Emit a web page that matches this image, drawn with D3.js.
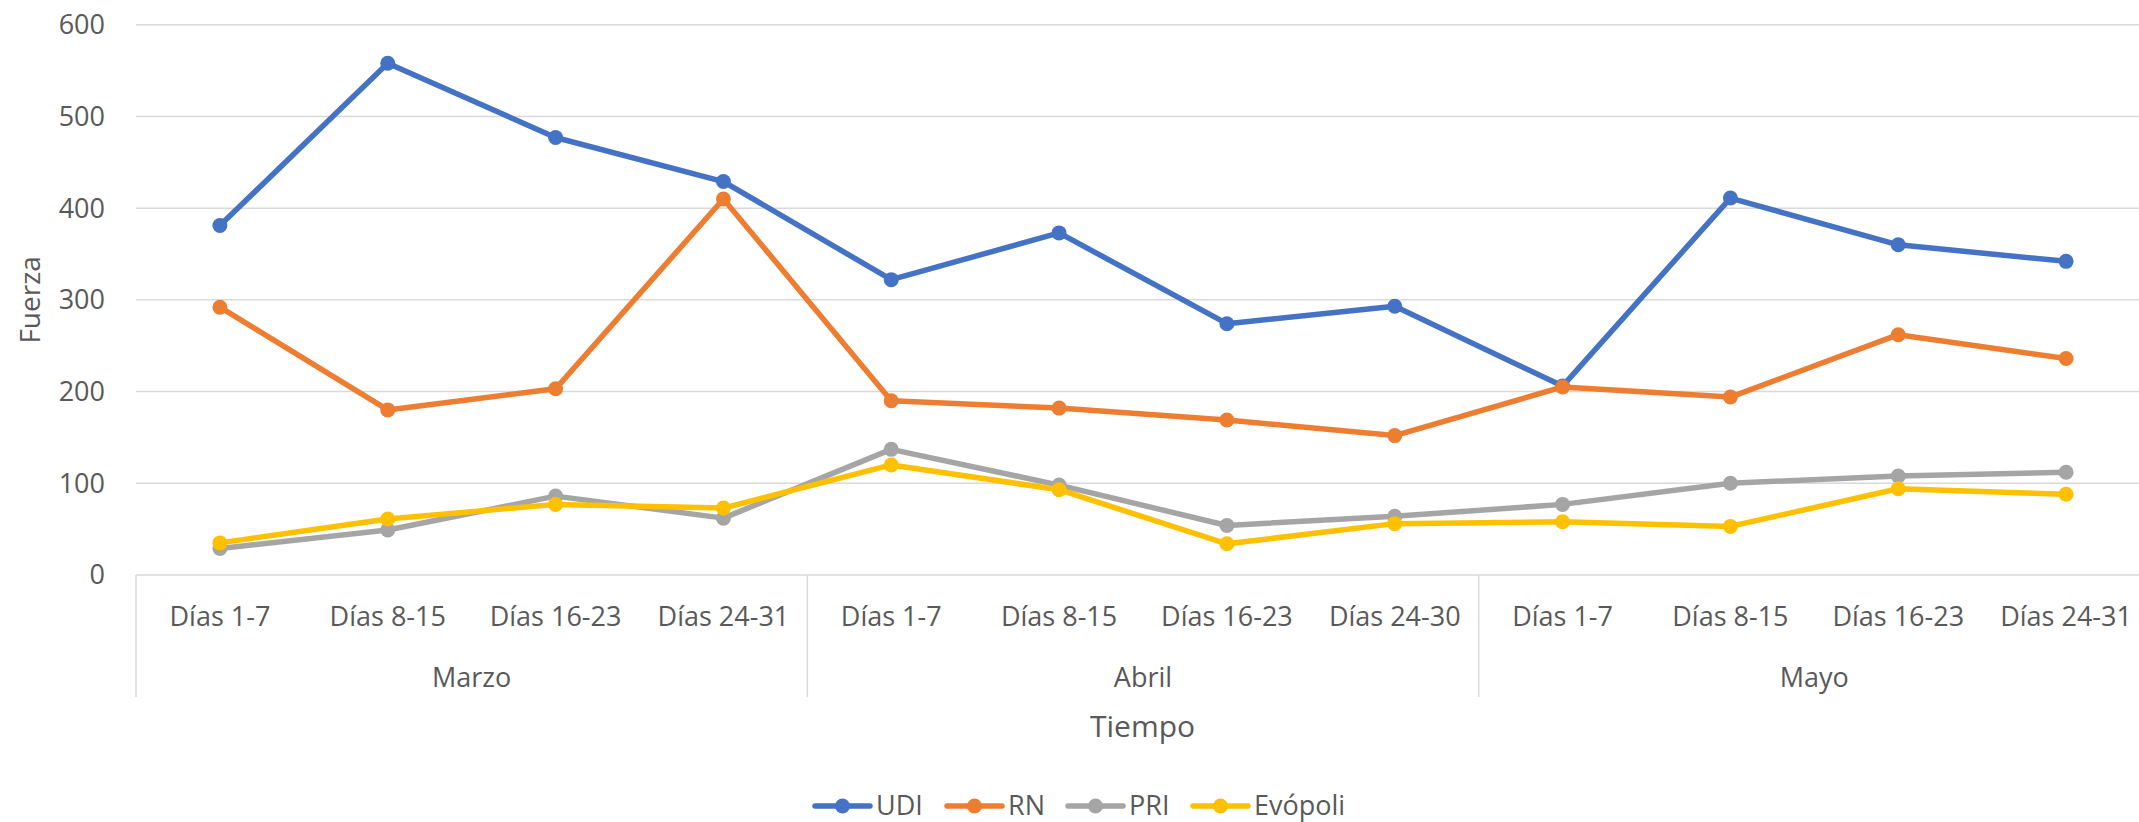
<!DOCTYPE html>
<html>
<head>
<meta charset="utf-8">
<script src="https://cdn.jsdelivr.net/npm/d3@7"></script>
<style>
  html, body { margin: 0; padding: 0; background: #fff; overflow: hidden; }
  svg { display: block; }
  text { font-family: "Open Sans", "Noto Sans", sans-serif; fill: #595959; }
</style>
</head>
<body>
<svg id="chart" width="2139" height="822"></svg>
<script>
const months = ["Marzo", "Abril", "Mayo"];
const periods = [
  ["Días 1-7", "Días 8-15", "Días 16-23", "Días 24-31"],
  ["Días 1-7", "Días 8-15", "Días 16-23", "Días 24-30"],
  ["Días 1-7", "Días 8-15", "Días 16-23", "Días 24-31"]
];
const seriesNames = ["UDI", "RN", "PRI", "Evópoli"];
const udi = [381, 558, 477, 429, 322, 373, 274, 293, 206, 411, 360, 342];
const rn = [292, 180, 203, 410, 190, 182, 169, 152, 205, 194, 262, 236];
const pri = [29, 49, 86, 62, 137, 98, 54, 64, 77, 100, 108, 112];
const evopoli = [35, 61, 77, 73, 120, 93, 34, 56, 58, 53, 94, 88];
const yTicks = [0, 100, 200, 300, 400, 500, 600];
const colors = ["#4472C4", "#ED7D31", "#A5A5A5", "#FFC000"];

const values = [udi, rn, pri, evopoli];
const cats = [];
months.forEach((m, mi) => periods[mi].forEach((p, pi) => cats.push({ id: mi + "-" + pi, month: m, mi, label: p })));

const svg = d3.select("#chart");
const pLeft = 136, pRight = 2150, pTop = 24.7, pBottom = 575;

const x = d3.scaleBand().domain(cats.map(c => c.id)).range([pLeft, pRight]).padding(0);
const y = d3.scaleLinear().domain([0, 600]).range([pBottom, pTop]);

// gridlines
svg.append("g").selectAll("line").data(yTicks).join("line")
  .attr("x1", pLeft).attr("x2", pRight)
  .attr("y1", d => y(d)).attr("y2", d => y(d))
  .attr("stroke", "#d9d9d9").attr("stroke-width", 1.5);

// y axis labels
svg.append("g").selectAll("text").data(yTicks).join("text")
  .attr("x", 105).attr("y", d => y(d))
  .attr("dy", "0.35em")
  .attr("text-anchor", "end")
  .attr("font-size", 27)
  .text(d => d);

// y axis title
svg.append("text")
  .attr("transform", `translate(30,${(pTop + pBottom) / 2}) rotate(-90)`)
  .attr("text-anchor", "middle").attr("dy", "0.35em")
  .attr("font-size", 28)
  .text("Fuerza");

// x category labels
svg.append("g").selectAll("text").data(cats).join("text")
  .attr("x", d => x(d.id) + x.bandwidth() / 2)
  .attr("y", 626)
  .attr("text-anchor", "middle")
  .attr("font-size", 27)
  .text(d => d.label);

// group separators
const groupEdges = [0, 4, 8].map(i => x(cats[i].id));
svg.append("g").selectAll("line").data(groupEdges).join("line")
  .attr("x1", d => d).attr("x2", d => d)
  .attr("y1", pBottom).attr("y2", 697)
  .attr("stroke", "#d9d9d9").attr("stroke-width", 1.5);

// month labels
svg.append("g").selectAll("text").data(months).join("text")
  .attr("x", (d, i) => {
    const a = x(cats[i * 4].id), b = x(cats[i * 4 + 3].id) + x.bandwidth();
    return (a + b) / 2;
  })
  .attr("y", 687)
  .attr("text-anchor", "middle")
  .attr("font-size", 27)
  .text(d => d);

// x axis title
svg.append("text")
  .attr("x", (pLeft + 2139) / 2 + 5).attr("y", 737)
  .attr("text-anchor", "middle")
  .attr("font-size", 30)
  .text("Tiempo");

// series
const line = d3.line().x((d, i) => x(cats[i].id) + x.bandwidth() / 2).y(d => y(d));
values.forEach((vals, si) => {
  const g = svg.append("g");
  g.append("path").datum(vals)
    .attr("d", line)
    .attr("fill", "none")
    .attr("stroke", colors[si])
    .attr("stroke-width", 5.5)
    .attr("stroke-linejoin", "round")
    .attr("stroke-linecap", "round");
  g.selectAll("circle").data(vals).join("circle")
    .attr("cx", (d, i) => x(cats[i].id) + x.bandwidth() / 2)
    .attr("cy", d => y(d))
    .attr("r", 7.5)
    .attr("fill", colors[si]);
});

// legend
const legendX = [815, 947, 1068, 1193];
const legend = svg.append("g").selectAll("g").data(seriesNames).join("g")
  .attr("transform", (d, i) => `translate(${legendX[i]},806)`);
legend.append("line")
  .attr("x1", 0).attr("x2", 55).attr("y1", 0).attr("y2", 0)
  .attr("stroke", (d, i) => colors[i]).attr("stroke-width", 5.5)
  .attr("stroke-linecap", "round");
legend.append("circle")
  .attr("cx", 27.5).attr("cy", 0).attr("r", 7.5)
  .attr("fill", (d, i) => colors[i]);
legend.append("text")
  .attr("x", 61).attr("y", 0).attr("dy", "0.35em")
  .attr("font-size", 27)
  .text(d => d);
</script>
</body>
</html>
